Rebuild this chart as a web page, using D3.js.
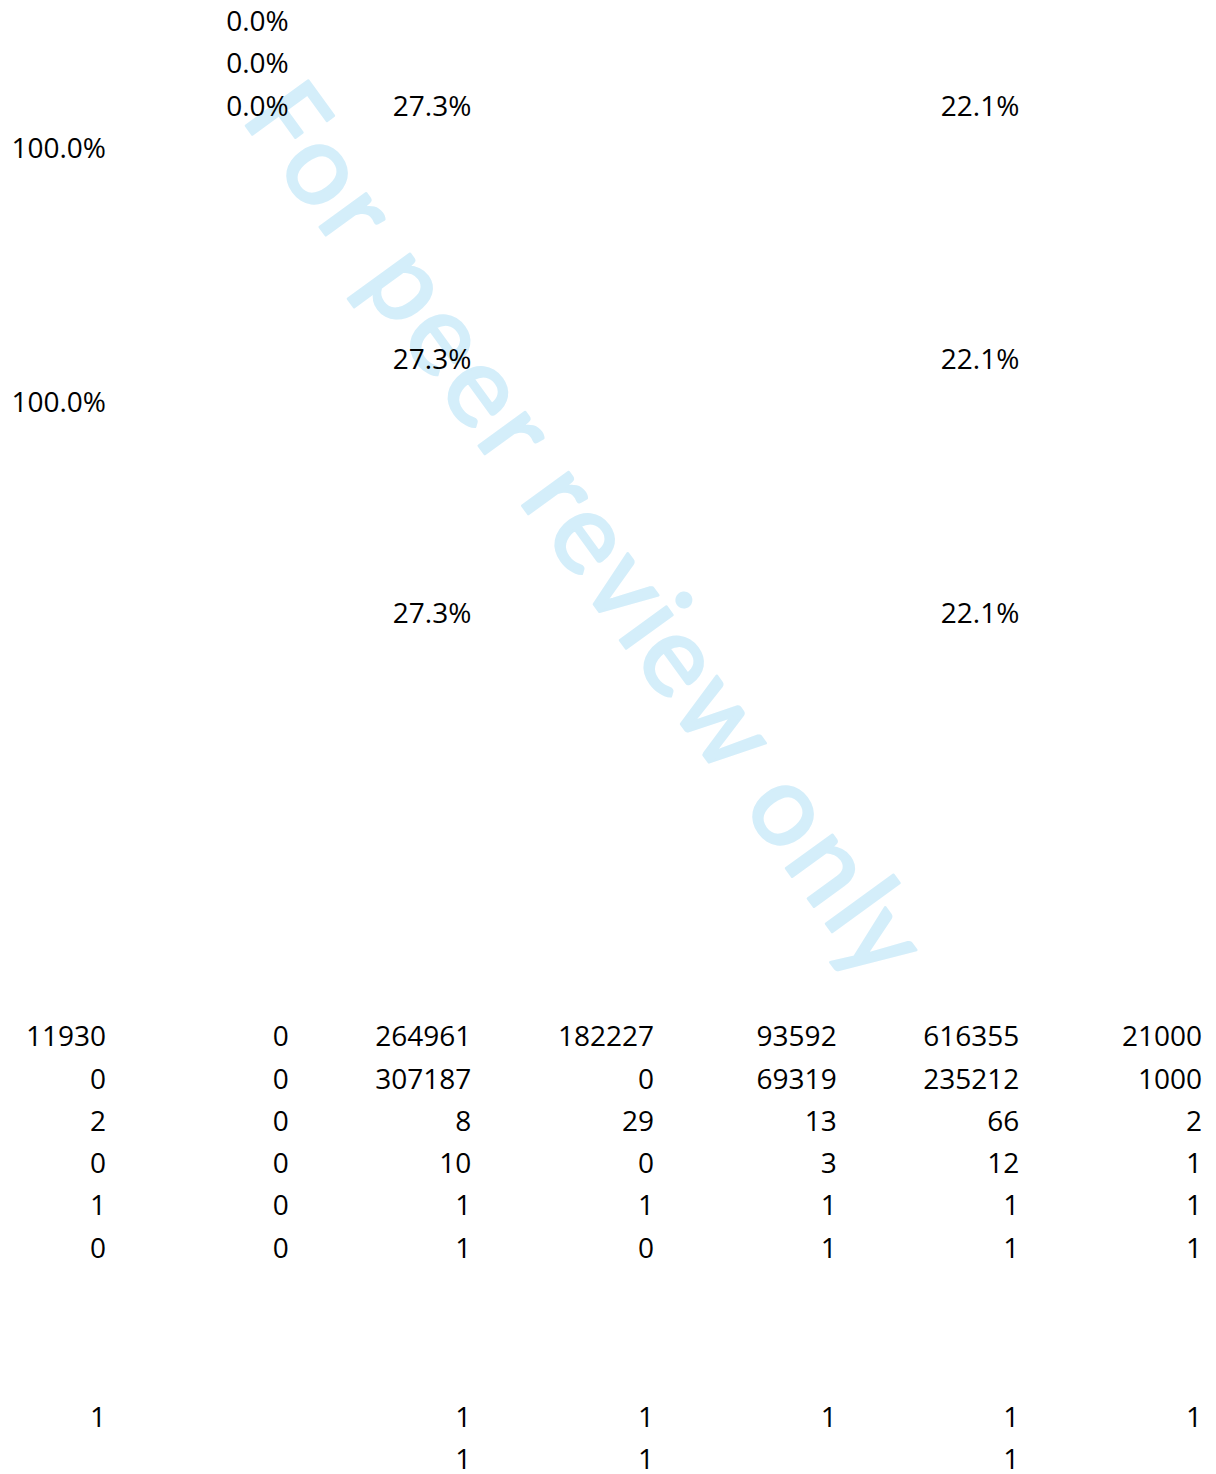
<!DOCTYPE html>
<html>
<head>
<meta charset="utf-8">
<script src="https://cdn.jsdelivr.net/npm/d3@7"></script>
<style>
  html, body { margin: 0; padding: 0; background: #fff; }
  svg { display: block; }
  .cell { font-family: "Open Sans", Lato, sans-serif; font-size: 28px; fill: #000; }
  .wm { font-family: Carlito, Lato, "Open Sans", sans-serif; fill: #d4eefa; stroke: #d4eefa; stroke-width: 2.5px; stroke-linejoin: round; }
</style>
</head>
<body>
<svg id="sheet"></svg>
<script>
var width = 1216, height = 1474;

// sheet columns (A..G)
var columns = ["A", "B", "C", "D", "E", "F", "G"];

// percentage block: sheet rows and their cells (fractions, null = empty)
var pctRows = [0, 1, 2, 3, 8, 9, 14];
var pctCells = [
  [null, 0, null, null, null, null, null],
  [null, 0, null, null, null, null, null],
  [null, 0, 0.273, null, null, 0.221, null],
  [1, null, null, null, null, null, null],
  [null, null, 0.273, null, null, 0.221, null],
  [1, null, null, null, null, null, null],
  [null, null, 0.273, null, null, 0.221, null]
];

// count block
var countRows = [24, 25, 26, 27, 28, 29];
var countCells = [
  [11930, 0, 264961, 182227, 93592, 616355, 21000],
  [0, 0, 307187, 0, 69319, 235212, 1000],
  [2, 0, 8, 29, 13, 66, 2],
  [0, 0, 10, 0, 3, 12, 1],
  [1, 0, 1, 1, 1, 1, 1],
  [0, 0, 1, 0, 1, 1, 1]
];

// flag block
var flagRows = [33, 34];
var flagCells = [
  [1, null, 1, 1, 1, 1, 1],
  [null, null, 1, 1, null, 1, null]
];

var watermark = "For peer review only";

var svg = d3.select("svg#sheet")
  .attr("width", width)
  .attr("height", height);

// right edge of each column
var xScale = d3.scalePoint()
  .domain(columns)
  .range([106, 1202]);

// text baseline of each sheet row
var yScale = d3.scaleLinear()
  .domain([0, 34])
  .range([31, 31 + 34 * 42.3]);

// --- watermark (drawn first, sits under the numbers) ---
var wmLayer = svg.append("g").attr("class", "wm-layer");
var fs = 120;
var measure = wmLayer.append("text")
  .attr("class", "wm")
  .style("font-size", fs + "px")
  .attr("x", 0).attr("y", 0)
  .attr("visibility", "hidden")
  .text(watermark);
var node = measure.node();
var starts = [], widths = [];
for (var i = 0; i < watermark.length; i++) {
  var s = node.getStartPositionOfChar(i).x;
  var e = node.getEndPositionOfChar(i).x;
  starts.push(s); widths.push(e - s);
}
measure.remove();

var ang = Math.atan2(641, 466);
var dir = [Math.cos(ang), Math.sin(ang)];
var gx = [Math.cos(ang), Math.sin(ang)];
var gy = [-Math.sin(ang), Math.cos(ang)];
var o1 = 1, o2 = watermark.lastIndexOf("o");
// stretch so the two "o" land where the reference has them
var k = 792.5 / (starts[o2] - starts[o1]);
var oc = [319, 173];
var lx = widths[o1] / 2, ly = -0.26 * fs;
var ax = oc[0] - starts[o1] * k * dir[0] - (gx[0] * lx + gy[0] * ly);
var ay = oc[1] - starts[o1] * k * dir[1] - (gx[1] * lx + gy[1] * ly);

wmLayer.selectAll("text.wm")
  .data(watermark.split("").map(function(c, i) { return {c: c, i: i}; })
    .filter(function(d) { return d.c !== " "; }))
  .enter().append("text")
  .attr("class", "wm")
  .style("font-size", fs + "px")
  .attr("transform", function(d) {
    var px = ax + starts[d.i] * k * dir[0];
    var py = ay + starts[d.i] * k * dir[1];
    return "matrix(" + [gx[0], gx[1], gy[0], gy[1], px, py].join(",") + ")";
  })
  .text(function(d) { return d.c; });

// --- cells ---
var pct = d3.format(".1%");

function drawBlock(cls, rows, cells, fmt) {
  var flat = [];
  rows.forEach(function(r, ri) {
    cells[ri].forEach(function(v, ci) {
      if (v !== null) flat.push({row: r, col: columns[ci], value: v});
    });
  });
  svg.append("g").attr("class", cls)
    .selectAll("text")
    .data(flat)
    .enter().append("text")
    .attr("class", "cell")
    .attr("text-anchor", "end")
    .attr("x", function(d) { return xScale(d.col); })
    .attr("y", function(d) { return yScale(d.row); })
    .text(function(d) { return fmt(d.value); });
}

drawBlock("pct-block", pctRows, pctCells, pct);
drawBlock("count-block", countRows, countCells, function(v) { return String(v); });
drawBlock("flag-block", flagRows, flagCells, function(v) { return String(v); });
</script>
</body>
</html>
